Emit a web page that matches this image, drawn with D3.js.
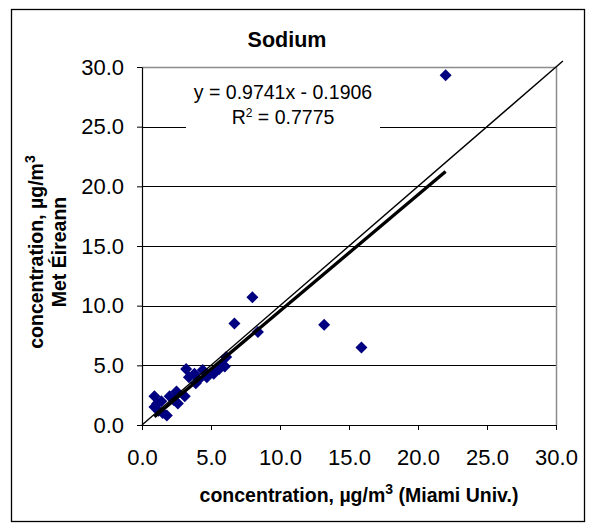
<!DOCTYPE html>
<html>
<head>
<meta charset="utf-8">
<script src="https://cdn.jsdelivr.net/npm/d3@7"></script>
<style>
  html, body { margin: 0; padding: 0; background: #fff; }
  svg { display: block; font-family: "Liberation Sans", Arial, sans-serif; }
</style>
</head>
<body>
<svg id="chart" width="593" height="523"></svg>
<script>
// Sodium concentrations: Miami Univ. (x) vs Met Éireann (y), µg/m³
const miami = [22.0, 8.0, 6.7, 8.4, 13.2, 15.9, 6.1, 6.0, 5.6, 5.2, 4.7, 4.4, 3.9, 3.4, 3.2,
               3.8, 3.1, 2.5, 2.3, 2.6, 0.9, 0.9, 1.4, 1.2, 1.8, 1.5, 5.9, 1.1, 2.0, 4.1];
const metEireann = [29.3, 10.7, 8.5, 7.8, 8.4, 6.5, 5.7, 4.9, 4.7, 4.3, 4.0, 4.6, 3.5, 4.0, 4.7,
                    4.3, 2.4, 2.8, 2.1, 1.8, 2.4, 1.5, 2.0, 1.2, 0.8, 1.0, 5.0, 1.8, 2.4, 3.8];
const ticks = [0, 5, 10, 15, 20, 25, 30];
const trendSlope = 0.9741;
const trendIntercept = -0.1906;
const rSquared = 0.7775;
const oneToOneEnd = 30.5;

const svg = d3.select("#chart");
const W = 593, H = 523;
const plot = { left: 142, right: 556, top: 67, bottom: 425 };

const x = d3.scaleLinear().domain([0, 30]).range([plot.left, plot.right]);
const y = d3.scaleLinear().domain([0, 30]).range([plot.bottom, plot.top]);

svg.append("rect").attr("width", W).attr("height", H).attr("fill", "#fff");

// chart frame
svg.append("rect")
  .attr("x", 11.5).attr("y", 9.5).attr("width", 573).attr("height", 512)
  .attr("fill", "none").attr("stroke", "#000").attr("stroke-width", 1.3);

// horizontal gridlines
svg.append("g").selectAll("line").data(ticks.filter(t => t > 0 && t < 30)).join("line")
  .attr("x1", plot.left).attr("x2", plot.right)
  .attr("y1", d => Math.round(y(d)) + 0.5).attr("y2", d => Math.round(y(d)) + 0.5)
  .attr("stroke", "#000").attr("stroke-width", 1);

// plot area border (top and right)
svg.append("path")
  .attr("d", `M${plot.left},${plot.top + 0.5}H${plot.right + 0.5}V${plot.bottom}`)
  .attr("fill", "none").attr("stroke", "#8c8c8c").attr("stroke-width", 1.5);

// axes
const xAxis = d3.axisBottom(x).tickValues(ticks).tickFormat(d3.format(".1f"))
  .tickSizeInner(5).tickSizeOuter(0).tickPadding(19);
const yAxis = d3.axisLeft(y).tickValues(ticks).tickFormat(d3.format(".1f"))
  .tickSizeInner(5).tickSizeOuter(0).tickPadding(13);

const gx = svg.append("g").attr("transform", `translate(0,${plot.bottom})`).call(xAxis);
const gy = svg.append("g").attr("transform", `translate(${plot.left},0)`).call(yAxis);
[gx, gy].forEach(g => {
  g.select(".domain").attr("stroke", "#000").attr("stroke-width", 1.2);
  g.selectAll(".tick line").attr("stroke", "#000");
  g.selectAll(".tick text").attr("fill", "#000")
    .attr("font-size", 22).attr("font-family", "Liberation Sans, Arial, sans-serif");
});

// data points (diamonds)
const diamond = r => `M0,${-r}L${r},0L0,${r}L${-r},0Z`;
svg.append("g").selectAll("path").data(miami.map((m, i) => [m, metEireann[i]])).join("path")
  .attr("d", diamond(6))
  .attr("transform", d => `translate(${x(d[0])},${y(d[1])})`)
  .attr("fill", "#000080");

// linear trendline over the data range
const xMin = d3.min(miami), xMax = d3.max(miami);
svg.append("line")
  .attr("x1", x(xMin)).attr("y1", y(trendSlope * xMin + trendIntercept))
  .attr("x2", x(xMax)).attr("y2", y(trendSlope * xMax + trendIntercept))
  .attr("stroke", "#000").attr("stroke-width", 3.3);

// 1:1 reference line
svg.append("line")
  .attr("x1", x(0)).attr("y1", y(0))
  .attr("x2", x(oneToOneEnd)).attr("y2", y(oneToOneEnd))
  .attr("stroke", "#000").attr("stroke-width", 1.4);

// trendline equation label
svg.append("rect")
  .attr("x", 186).attr("y", 76).attr("width", 194).attr("height", 56).attr("fill", "#fff");
svg.append("text")
  .attr("x", 283).attr("y", 99).attr("text-anchor", "middle")
  .attr("font-size", 19.5)
  .text(`y = ${trendSlope}x - ${Math.abs(trendIntercept)}`);
const r2 = svg.append("text")
  .attr("x", 283).attr("y", 124).attr("text-anchor", "middle")
  .attr("font-size", 19.5);
r2.append("tspan").text("R");
r2.append("tspan").attr("font-size", 12).attr("dy", -7).text("2");
r2.append("tspan").attr("dy", 7).text(` = ${rSquared}`);

// title
svg.append("text")
  .attr("x", 287).attr("y", 47).attr("text-anchor", "middle")
  .attr("font-size", 21.5).attr("font-weight", "bold")
  .text("Sodium");

// x-axis title
const xt = svg.append("text")
  .attr("x", 359).attr("y", 502).attr("text-anchor", "middle")
  .attr("font-size", 19.5).attr("font-weight", "bold");
xt.append("tspan").text("concentration, µg/m");
xt.append("tspan").attr("font-size", 14).attr("dy", -8).text("3");
xt.append("tspan").attr("dy", 8).text(" (Miami Univ.)");

// y-axis title (two lines)
const yt = svg.append("g").attr("transform", "translate(43,252) rotate(-90)");
const yl1 = yt.append("text").attr("text-anchor", "middle")
  .attr("font-size", 19.5).attr("font-weight", "bold");
yl1.append("tspan").text("concentration, µg/m");
yl1.append("tspan").attr("font-size", 14).attr("dy", -8).text("3");
yt.append("text").attr("y", 23).attr("text-anchor", "middle")
  .attr("font-size", 19.5).attr("font-weight", "bold")
  .text("Met Éireann");
</script>
</body>
</html>
